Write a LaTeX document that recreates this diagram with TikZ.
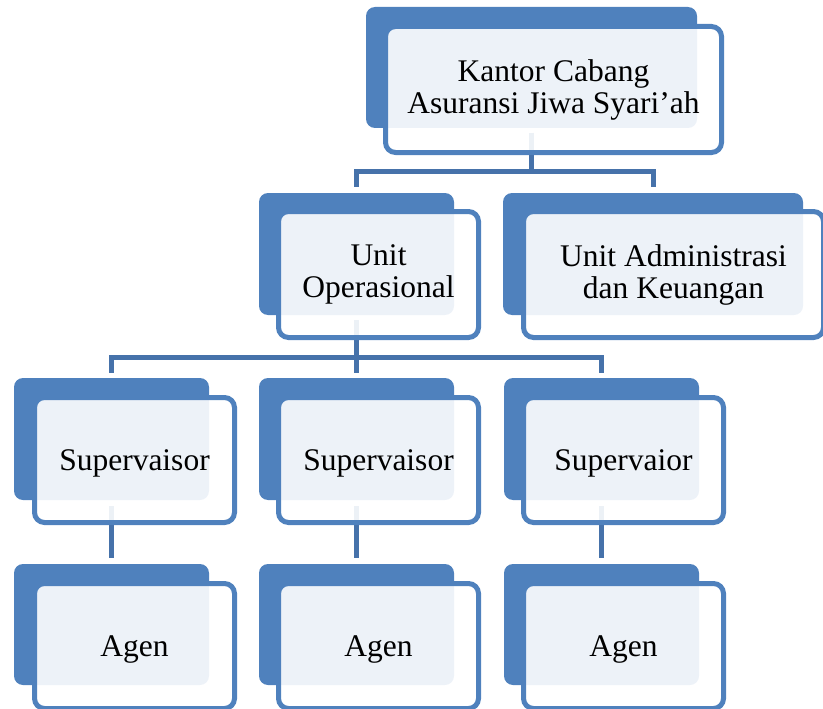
\documentclass[tikz,border=0pt]{standalone}
\usepackage{fontspec}
\setmainfont{Liberation Serif}
\definecolor{accent}{HTML}{4F81BD}
\definecolor{connclr}{HTML}{4672AA}
\begin{document}
\begin{tikzpicture}[x=1pt,y=-1pt,
  backbox/.style={fill=accent, rounded corners=9pt, inner sep=0pt, outer sep=0pt, anchor=north west},
  frontbox/.style={draw=accent, line width=5pt, fill=white, fill opacity=0.9, text opacity=1,
     rounded corners=10pt, inner sep=0pt, outer sep=0pt, anchor=north west, align=center,
     font=\fontsize{31.5}{32}\selectfont, text=black},
  oneline/.style={frontbox, text depth=0pt},
  connector/.style={draw=connclr, line width=5pt, line join=miter}
]
\useasboundingbox (0,0) rectangle (823,709);
% back boxes
\node[backbox, minimum width=331pt, minimum height=121pt] (kcb) at (366,7) {};
\node[backbox, minimum width=195pt, minimum height=122pt] (uob) at (259,193) {};
\node[backbox, minimum width=300pt, minimum height=122pt] (uab) at (503,193) {};
\node[backbox, minimum width=195pt, minimum height=122pt] (s1b) at (14,378) {};
\node[backbox, minimum width=195pt, minimum height=122pt] (s2b) at (259,378) {};
\node[backbox, minimum width=195pt, minimum height=122pt] (s3b) at (504,378) {};
\node[backbox, minimum width=195pt, minimum height=121pt] (a1b) at (14,564) {};
\node[backbox, minimum width=195pt, minimum height=121pt] (a2b) at (259,564) {};
\node[backbox, minimum width=195pt, minimum height=121pt] (a3b) at (504,564) {};
% connectors
\draw[connector] ([yshift=-5pt]kcb.south) |- ([yshift=22pt]uob.north) -- ([yshift=6pt]uob.north);
\draw[connector] ([yshift=-5pt]kcb.south) |- ([yshift=22pt]uab.north) -- ([yshift=6pt]uab.north);
\draw[connector] ([yshift=-5pt]uob.south) |- ([yshift=21pt]s1b.north) -- ([yshift=5pt]s1b.north);
\draw[connector] ([yshift=-5pt]uob.south) |- ([yshift=21pt]s2b.north) -- ([yshift=5pt]s2b.north);
\draw[connector] ([yshift=-5pt]uob.south) |- ([yshift=21pt]s3b.north) -- ([yshift=5pt]s3b.north);
\draw[connector] ([yshift=-6pt]s1b.south) -- ([yshift=6pt]a1b.north);
\draw[connector] ([yshift=-6pt]s2b.south) -- ([yshift=6pt]a2b.north);
\draw[connector] ([yshift=-6pt]s3b.south) -- ([yshift=6pt]a3b.north);
% front boxes
\node[frontbox, minimum width=336pt, minimum height=126pt] (kcf) at (385.5,26.5) {Kantor Cabang\\Asuransi Jiwa Syari’ah};
\node[frontbox, minimum width=200pt, minimum height=126pt] (uof) at (278.5,211.5) {Unit\\Operasional};
\node[frontbox, minimum width=300pt, minimum height=126pt] (uaf) at (523.5,211.5) {Unit Administrasi\\dan Keuangan};
\node[oneline, minimum width=200pt, minimum height=125pt] (s1f) at (34.5,397.5) {Supervaisor};
\node[oneline, minimum width=200pt, minimum height=125pt] (s2f) at (278.5,397.5) {Supervaisor};
\node[oneline, minimum width=200pt, minimum height=125pt] (s3f) at (523.5,397.5) {Supervaior};
\node[oneline, minimum width=200pt, minimum height=125pt] (a1f) at (34.5,583.5) {Agen};
\node[oneline, minimum width=200pt, minimum height=125pt] (a2f) at (278.5,583.5) {Agen};
\node[oneline, minimum width=200pt, minimum height=125pt] (a3f) at (523.5,583.5) {Agen};
\end{tikzpicture}
\end{document}
